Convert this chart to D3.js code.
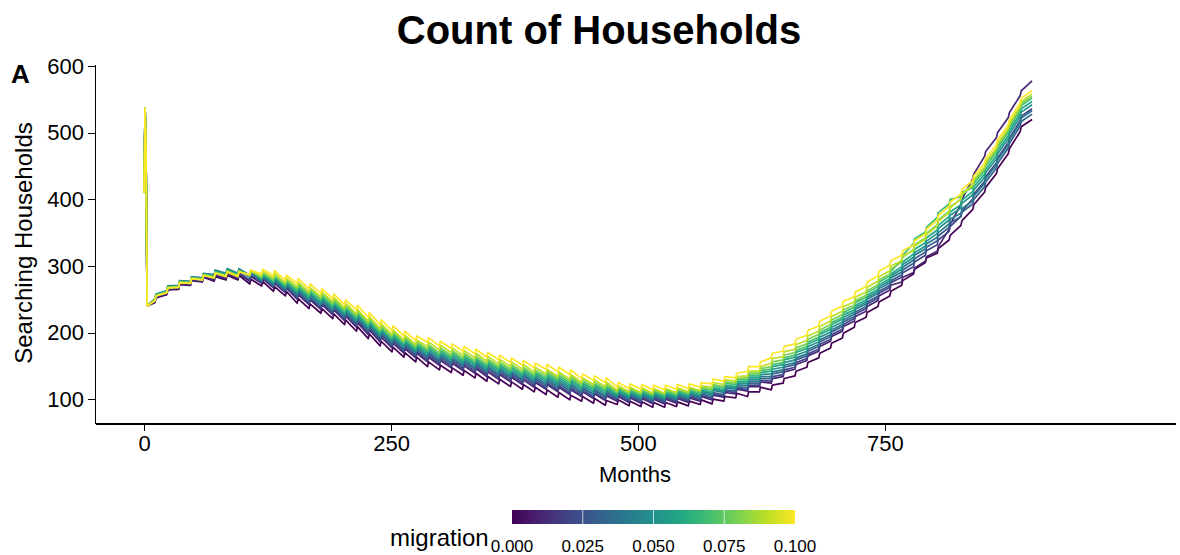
<!DOCTYPE html>
<meta charset="utf-8">
<style>
  body {
    margin: 0;
    background: #fff;
    font-family: 'Liberation Sans', Arial, sans-serif;
  }

  .axis path,
  .axis line {
    fill: none;
    stroke: #000;
    stroke-width: 1.1;
    shape-rendering: crispEdges;
  }

  .axis text {
    font-size: 22px;
    fill: #000;
    font-family: 'Liberation Sans', Arial, sans-serif;
  }
</style>

<body>
  <div id="chart"></div>
  <script src="https://d3js.org/d3.v7.min.js"></script>

  <script>
    // months at which each series has a vertex (start-up spike, then the
    // value just before and just after each yearly jump)
    var months = [0, 1, 2, 3,
      11, 12, 23, 24, 35, 36, 47, 48, 59, 60, 71, 72, 83, 84, 95, 96, 107, 108, 119, 120,
      131, 132, 143, 144, 155, 156, 167, 168, 179, 180, 191, 192, 203, 204, 215, 216, 227, 228, 239, 240,
      251, 252, 263, 264, 275, 276, 287, 288, 299, 300, 311, 312, 323, 324, 335, 336, 347, 348, 359, 360,
      371, 372, 383, 384, 395, 396, 407, 408, 419, 420, 431, 432, 443, 444, 455, 456, 467, 468, 479, 480,
      491, 492, 503, 504, 515, 516, 527, 528, 539, 540, 551, 552, 563, 564, 575, 576, 587, 588, 599, 600,
      611, 612, 623, 624, 635, 636, 647, 648, 659, 660, 671, 672, 683, 684, 695, 696, 707, 708, 719, 720,
      731, 732, 743, 744, 755, 756, 767, 768, 779, 780, 791, 792, 803, 804, 815, 816, 827, 828, 839, 840,
      851, 852, 863, 864, 875, 876, 887, 888, 899];

    // x axis runs a little past the last month, as in the original panel
    var monthLimits = [0, 994];

    // first four months, identical for every run
    var spinUp = [410, 537, 470, 240];

    var m000 = [245,252, 257,264, 265,272, 271,278, 276,283, 277,284, 279,286, 279,286, 273,280, 270,277,
      262,269, 255,262, 244,251, 236,243, 229,236, 221,228, 212,219, 202,209, 191,198, 180,187,
      171,178, 163,170, 156,163, 149,156, 144,151, 140,147, 136,143, 132,139, 127,134, 123,130,
      119,126, 115,122, 111,118, 107,114, 103,110, 99,106, 97,104, 94,101, 91,98, 92,99,
      90,97, 89,96, 88,95, 88,95, 89,96, 90,97, 92,99, 93,100, 97,104, 102,109,
      104,111, 111,118, 114,121, 124,131, 135,142, 148,155, 162,169, 177,184, 192,199, 208,215,
      223,230, 239,246, 255,262, 271,278, 288,295, 305,312, 319,326, 339,346, 361,368, 385,392,
      411,418, 439,446, 469,476, 502,509, 520];
    var m001 = [246,253, 258,265, 266,273, 272,279, 277,284, 279,286, 281,288, 281,288, 277,284, 274,281,
      267,274, 260,267, 250,257, 242,249, 235,242, 227,234, 218,225, 208,215, 197,204, 186,193,
      177,184, 169,176, 162,169, 156,163, 151,158, 147,154, 143,150, 139,146, 134,141, 130,137,
      126,133, 122,129, 118,125, 115,122, 111,118, 107,114, 104,111, 101,108, 98,105, 97,104,
      95,102, 94,101, 93,100, 93,100, 94,101, 95,102, 97,104, 99,106, 103,110, 108,115,
      112,119, 119,126, 124,131, 134,141, 145,152, 158,165, 172,179, 187,194, 202,209, 217,224,
      232,239, 248,255, 264,271, 276,283, 290,297, 307,314, 322,329, 355,362, 393,400, 431,438,
      465,472, 493,500, 523,530, 556,563, 578];
    var m002 = [247,254, 259,266, 267,274, 273,280, 278,285, 281,288, 283,290, 283,290, 279,286, 275,282,
      269,276, 262,269, 252,259, 244,251, 237,244, 229,236, 220,227, 211,218, 200,207, 189,196,
      180,187, 172,179, 165,172, 159,166, 154,161, 150,157, 146,153, 142,149, 137,144, 133,140,
      129,136, 125,132, 121,128, 117,124, 113,120, 109,116, 106,113, 103,110, 100,107, 99,106,
      97,104, 96,103, 95,102, 95,102, 96,103, 97,104, 99,106, 101,108, 105,112, 110,117,
      114,121, 121,128, 127,134, 137,144, 148,155, 161,168, 175,182, 190,197, 205,212, 221,228,
      236,243, 252,259, 268,275, 283,290, 299,306, 316,323, 332,339, 352,359, 375,382, 401,408,
      427,434, 455,462, 485,492, 518,525, 536];
    var m003 = [249,256, 261,268, 269,276, 275,282, 280,287, 284,291, 286,293, 286,293, 283,290, 276,283,
      270,277, 263,270, 254,261, 246,253, 239,246, 231,238, 222,229, 213,220, 202,209, 191,198,
      182,189, 174,181, 167,174, 162,169, 157,164, 153,160, 149,156, 145,152, 140,147, 136,143,
      132,139, 128,135, 124,131, 120,127, 116,123, 112,119, 109,116, 106,113, 103,110, 101,108,
      99,106, 98,105, 97,104, 97,104, 98,105, 99,106, 101,108, 103,110, 107,114, 112,119,
      117,124, 124,131, 131,138, 141,148, 152,159, 165,172, 179,186, 194,201, 209,216, 224,231,
      239,246, 255,262, 271,278, 287,294, 304,311, 321,328, 338,345, 358,365, 374,381, 393,400,
      419,426, 447,454, 477,484, 510,517, 528];
    var m004 = [251,258, 263,270, 271,278, 277,284, 282,289, 287,294, 289,296, 289,296, 286,293, 278,285,
      272,279, 265,272, 257,264, 249,256, 242,249, 234,241, 225,232, 216,223, 205,212, 194,201,
      185,192, 177,184, 170,177, 164,171, 159,166, 155,162, 151,158, 147,154, 142,149, 138,145,
      134,141, 130,137, 126,133, 123,130, 119,126, 115,122, 111,118, 108,115, 105,112, 103,110,
      101,108, 100,107, 99,106, 99,106, 100,107, 101,108, 103,110, 106,113, 110,117, 115,122,
      120,127, 127,134, 134,141, 144,151, 155,162, 168,175, 182,189, 197,204, 212,219, 228,235,
      243,250, 259,266, 275,282, 291,298, 309,316, 326,333, 343,350, 363,370, 379,386, 398,405,
      424,431, 452,459, 482,489, 515,522, 533];
    var m005 = [250,257, 262,269, 270,277, 276,283, 281,288, 286,293, 288,295, 288,295, 286,293, 279,286,
      274,281, 267,274, 259,266, 251,258, 244,251, 236,243, 227,234, 218,225, 207,214, 196,203,
      187,194, 179,186, 172,179, 167,174, 162,169, 158,165, 154,161, 150,157, 145,152, 141,148,
      137,144, 133,140, 129,136, 126,133, 122,129, 118,125, 114,121, 111,118, 108,115, 105,112,
      103,110, 102,109, 101,108, 101,108, 102,109, 103,110, 105,112, 108,115, 112,119, 117,124,
      123,130, 130,137, 138,145, 148,155, 159,166, 172,179, 186,193, 201,208, 216,223, 231,238,
      246,253, 262,269, 278,285, 295,302, 313,320, 330,337, 349,356, 369,376, 387,394, 407,414,
      433,440, 461,468, 491,498, 524,531, 542];
    var m006 = [250,257, 262,269, 270,277, 276,283, 281,288, 285,292, 287,294, 287,294, 285,292, 280,287,
      276,283, 269,276, 261,268, 253,260, 246,253, 238,245, 229,236, 220,227, 209,216, 198,205,
      189,196, 181,188, 174,181, 170,177, 165,172, 161,168, 157,164, 153,160, 148,155, 144,151,
      140,147, 136,143, 132,139, 129,136, 125,132, 121,128, 117,124, 114,121, 111,118, 107,114,
      105,112, 104,111, 103,110, 103,110, 104,111, 105,112, 107,114, 110,117, 114,121, 119,126,
      126,133, 133,140, 142,149, 152,159, 163,170, 176,183, 190,197, 205,212, 220,227, 234,241,
      249,256, 265,272, 281,288, 299,306, 318,325, 335,342, 354,361, 374,381, 392,399, 412,419,
      438,445, 466,473, 496,503, 529,536, 547];
    var m007 = [249,256, 261,268, 269,276, 275,282, 280,287, 284,291, 286,293, 286,293, 286,293, 282,289,
      278,285, 271,278, 264,271, 256,263, 249,256, 241,248, 232,239, 223,230, 212,219, 201,208,
      192,199, 184,191, 177,184, 172,179, 167,174, 163,170, 159,166, 155,162, 150,157, 146,153,
      142,149, 138,145, 134,141, 132,139, 128,135, 124,131, 119,126, 116,123, 113,120, 109,116,
      107,114, 106,113, 105,112, 105,112, 106,113, 107,114, 109,116, 113,120, 117,124, 122,129,
      129,136, 136,143, 145,152, 155,162, 166,173, 179,186, 193,200, 208,215, 223,230, 238,245,
      253,260, 269,276, 285,292, 309,316, 334,341, 351,358, 373,380, 393,400, 404,411, 417,424,
      443,450, 471,478, 501,508, 534,541, 552];
    var m008 = [249,256, 261,268, 269,276, 275,282, 280,287, 283,290, 285,292, 285,292, 285,292, 283,290,
      279,286, 272,279, 266,273, 258,265, 251,258, 243,250, 234,241, 225,232, 214,221, 203,210,
      194,201, 186,193, 179,186, 175,182, 170,177, 166,173, 162,169, 158,165, 153,160, 149,156,
      145,152, 141,148, 137,144, 135,142, 131,138, 127,134, 122,129, 119,126, 116,123, 111,118,
      109,116, 108,115, 107,114, 107,114, 108,115, 109,116, 111,118, 115,122, 119,126, 124,131,
      132,139, 139,146, 149,156, 159,166, 170,177, 183,190, 197,204, 212,219, 227,234, 241,248,
      256,263, 272,279, 288,295, 306,313, 325,332, 342,349, 362,369, 382,389, 400,407, 420,427,
      446,453, 474,481, 504,511, 537,544, 555];
    var m009 = [248,255, 260,267, 268,275, 274,281, 279,286, 283,290, 285,292, 285,292, 286,293, 285,292,
      282,289, 275,282, 269,276, 261,268, 254,261, 246,253, 237,244, 228,235, 217,224, 206,213,
      197,204, 189,196, 182,189, 179,186, 174,181, 170,177, 166,173, 162,169, 157,164, 153,160,
      149,156, 145,152, 141,148, 138,145, 134,141, 130,137, 125,132, 122,129, 119,126, 113,120,
      111,118, 110,117, 109,116, 109,116, 110,117, 111,118, 113,120, 118,125, 122,129, 127,134,
      135,142, 142,149, 154,161, 164,171, 175,182, 188,195, 202,209, 217,224, 232,239, 246,253,
      261,268, 277,284, 293,300, 308,315, 323,330, 340,347, 360,367, 380,387, 401,408, 423,430,
      449,456, 477,484, 507,514, 540,547, 558];
    var m010 = [248,255, 260,267, 268,275, 274,281, 279,286, 282,289, 284,291, 284,291, 287,294, 288,295,
      286,293, 279,286, 274,281, 266,273, 259,266, 251,258, 242,249, 234,241, 223,230, 212,219,
      203,210, 195,202, 188,195, 185,192, 180,187, 176,183, 172,179, 168,175, 163,170, 159,166,
      155,162, 151,158, 147,154, 145,152, 141,148, 137,144, 131,138, 128,135, 125,132, 118,125,
      116,123, 115,122, 114,121, 114,121, 115,122, 116,123, 118,125, 123,130, 127,134, 132,139,
      142,149, 149,156, 162,169, 172,179, 183,190, 196,203, 210,217, 225,232, 240,247, 254,261,
      269,276, 285,292, 301,308, 316,323, 331,338, 348,355, 369,376, 389,396, 408,415, 428,435,
      454,461, 482,489, 512,519, 545,552, 563];

    var migration = [0, 0.01, 0.02, 0.03, 0.04, 0.05, 0.06, 0.07, 0.08, 0.09, 0.1];
    var seriesValues = [m000, m001, m002, m003, m004, m005, m006, m007, m008, m009, m010];

    var xTicks = [0, 250, 500, 750];
    var yTicks = [100, 200, 300, 400, 500, 600];
    var legendTicks = [0, 0.025, 0.05, 0.075, 0.1];

    var width = 1180,
      height = 555;

    var panel = {
      left: 95,
      right: 1175,
      top: 64.5,
      bottom: 423.5
    };

    var series = migration.map(function(mig, i) {
      var vals = spinUp.concat(seriesValues[i]);
      return {
        mig: mig,
        values: months.map(function(m, j) {
          return { m: m, v: vals[j] };
        })
      };
    });

    // ggplot style 5% expansion
    function expand(ext) {
      var pad = (ext[1] - ext[0]) * 0.05;
      return [ext[0] - pad, ext[1] + pad];
    }

    var allPts = series.flatMap(s => s.values);
    var xScale = d3.scaleLinear()
      .domain(expand(monthLimits))
      .range([panel.left, panel.right]);
    var yScale = d3.scaleLinear()
      .domain(expand(d3.extent(allPts, d => d.v)))
      .range([panel.bottom, panel.top]);

    var color = d3.scaleSequential(d3.interpolateViridis).domain([0, 0.1]);

    var svg = d3.select('#chart')
      .append('svg')
      .attr('width', width)
      .attr('height', height);

    // lines
    var line = d3.line()
      .x(d => xScale(d.m))
      .y(d => yScale(d.v));

    svg.append('g')
      .selectAll('path')
      .data(series)
      .enter()
      .append('path')
      .attr('d', d => line(d.values))
      .attr('fill', 'none')
      .attr('stroke', d => color(d.mig))
      .attr('stroke-width', 1.7)
      .attr('stroke-linejoin', 'round');

    // axes
    svg.append('g')
      .attr('class', 'x axis')
      .attr('transform', `translate(0,${panel.bottom})`)
      .call(d3.axisBottom(xScale).tickValues(xTicks).tickSize(7).tickSizeOuter(0).tickPadding(5));

    svg.append('g')
      .attr('class', 'y axis')
      .attr('transform', `translate(${panel.left},0)`)
      .call(d3.axisLeft(yScale).tickValues(yTicks).tickSize(7).tickSizeOuter(0).tickPadding(4));

    // axis titles
    svg.append('text')
      .attr('x', (panel.left + panel.right) / 2)
      .attr('y', 482)
      .attr('text-anchor', 'middle')
      .style('font-size', '22px')
      .text('Months');

    svg.append('text')
      .attr('transform', 'rotate(-90)')
      .attr('x', -243)
      .attr('y', 32)
      .attr('text-anchor', 'middle')
      .style('font-size', '24px')
      .text('Searching Households');

    // title and tag
    svg.append('text')
      .attr('x', 599)
      .attr('y', 44)
      .attr('text-anchor', 'middle')
      .style('font-size', '40px')
      .style('font-weight', 'bold')
      .text('Count of Households');

    svg.append('text')
      .attr('x', 11)
      .attr('y', 83)
      .style('font-size', '26px')
      .style('font-weight', 'bold')
      .text('A');

    // colour bar legend
    var legX = d3.scaleLinear().domain([0, 0.1]).range([512, 795]);
    var grad = svg.append('defs').append('linearGradient')
      .attr('id', 'viridis');
    d3.range(0, 1.0001, 0.1).forEach(function(t) {
      grad.append('stop')
        .attr('offset', (t * 100) + '%')
        .attr('stop-color', d3.interpolateViridis(t));
    });

    svg.append('rect')
      .attr('x', legX(0))
      .attr('y', 510)
      .attr('width', legX(0.1) - legX(0))
      .attr('height', 14)
      .attr('fill', 'url(#viridis)');

    svg.append('g')
      .selectAll('line')
      .data(legendTicks.slice(1, -1))
      .enter()
      .append('line')
      .attr('x1', d => legX(d))
      .attr('x2', d => legX(d))
      .attr('y1', 510)
      .attr('y2', 524)
      .attr('stroke', '#fff')
      .attr('stroke-opacity', 0.7)
      .attr('stroke-width', 1);

    svg.append('g')
      .selectAll('text')
      .data(legendTicks)
      .enter()
      .append('text')
      .attr('x', d => legX(d))
      .attr('y', 552)
      .attr('text-anchor', 'middle')
      .style('font-size', '17px')
      .text(d => d3.format('.3f')(d));

    svg.append('text')
      .attr('x', 390)
      .attr('y', 546)
      .style('font-size', '24px')
      .text('migration');
  </script>
</body>
